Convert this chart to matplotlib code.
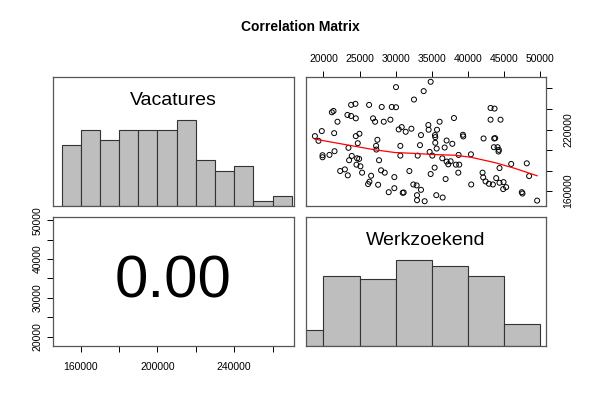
import numpy as np
import matplotlib
matplotlib.use('Agg')
import matplotlib.pyplot as plt

plt.rcParams['font.family'] = ['Liberation Sans', 'DejaVu Sans']

title = 'Correlation Matrix'
var_names = ['Vacatures', 'Werkzoekend']
corr_text = '0.00'

# scatter points
werkzoekend = [18810, 19310, 19770, 19870, 19870, 20830, 21160, 21390, 21530, 21480,
               21940, 22310, 22960, 23370, 23320, 23460, 23550, 23830, 23830, 23920,
               24430, 24480, 24570, 24480, 24660, 24750, 24940, 24980, 25120, 25350,
               26320, 26180, 26370, 26600, 26870, 27150, 27290, 27330, 27470, 27700,
               27980, 27570, 28070, 28350, 28490, 29040, 29270, 29460, 29820, 29820,
               30050, 30050, 30420, 30650, 30650, 30840, 30980, 31110, 31390, 31900,
               32180, 32450, 32540, 32910, 32960, 32960, 33050, 33370, 33510, 33510,
               33880, 34020, 34530, 34570, 34710, 34850, 34850, 35080, 35400, 35450,
               35490, 35630, 35730, 35490, 35680, 36090, 36460, 36510, 36790, 36920,
               37060, 37060, 37290, 37620, 37850, 38080, 38350, 38680, 38720, 38810,
               39320, 39370, 40430, 40470, 42040, 42130, 42180, 42460, 42920, 43150,
               43150, 43470, 43650, 43700, 43790, 43930, 43610, 44120, 44250, 44300,
               44390, 44390, 44530, 44950, 44900, 45310, 46010, 47480, 47570, 48170,
               48490, 49600]
vacatures = [213600, 209000, 218500, 195000, 193000, 195300, 236800, 238100, 198900, 216500,
             227600, 179600, 181200, 175400, 234200, 202200, 190100, 244000, 233200, 194300,
             245000, 230900, 185800, 213600, 192000, 206700, 191400, 215900, 184200, 178000,
             244000, 166900, 169200, 175000, 230900, 227600, 204100, 200500, 210000, 190100,
             180300, 166200, 242000, 227600, 178000, 159000, 229600, 242000, 173700, 162900,
             241700, 261300, 220100, 204100, 194600, 222400, 158400, 158700, 217800, 179600,
             220800, 166500, 249200, 165600, 151200, 156100, 194600, 204800, 214600, 161300,
             257400, 150200, 224400, 219800, 198200, 176700, 266500, 194600, 182900, 214600,
             212600, 156100, 219800, 207100, 201500, 227600, 192000, 153800, 202500, 171800,
             209300, 188800, 186100, 189100, 206100, 231200, 185800, 178000, 195300, 185800,
             214900, 213300, 195900, 166500, 178000, 173400, 211300, 169500, 167200, 241000,
             229600, 166500, 211300, 240400, 211600, 172700, 202800, 202800, 198600, 200200,
             182500, 168200, 229600, 168800, 162000, 163900, 186500, 159000, 157700, 187100,
             174700, 150800]

# smoother (red line)
smooth_x = [18810, 23460, 27150, 29920, 32220, 35450, 38210, 40430, 43750, 46510, 49600]
smooth_y = [210650, 204800, 200200, 197600, 196900, 195600, 195000, 193000, 187800, 182200, 175000]

# histograms
vac_edges = [150000, 160000, 170000, 180000, 190000, 200000, 210000,
             220000, 230000, 240000, 250000, 260000, 270000]
vac_counts = [12, 15, 13, 15, 15, 15, 17, 9, 7, 8, 1, 2]
werk_edges = [15000, 20000, 25000, 30000, 35000, 40000, 45000, 50000]
werk_counts = [5, 22, 21, 27, 25, 22, 7]

vac_ticks = [160000, 180000, 200000, 220000, 240000, 260000]
werk_ticks = [20000, 25000, 30000, 35000, 40000, 45000, 50000]


def padded(v):
    lo, hi = min(v), max(v)
    d = (hi - lo) * 0.04
    return lo - d, hi + d


vac_lim = padded(vacatures)
werk_lim = padded(werkzoekend)

fig = plt.figure(figsize=(6, 4), dpi=100)
fig.text(0.5, 0.932, title, ha='center', va='center', fontsize=10, fontweight='bold')

box = '#555555'
ax11 = fig.add_axes([0.0883, 0.485, 0.4017, 0.3225])
ax12 = fig.add_axes([0.51, 0.485, 0.40, 0.3225])
ax21 = fig.add_axes([0.0883, 0.135, 0.4017, 0.3225])
ax22 = fig.add_axes([0.51, 0.135, 0.40, 0.3225])

for ax in [ax11, ax12, ax21, ax22]:
    for s in ax.spines.values():
        s.set_color(box)
        s.set_linewidth(0.9)
    ax.set_xticks([])
    ax.set_yticks([])
    ax.tick_params(length=4.3, width=0.7, labelsize=7.5, colors='black')


def hist_panel(ax, edges, counts, lim, name):
    edges = np.array(edges, dtype=float)
    h = np.array(counts, dtype=float)
    h = h / h.max()
    ax.bar(edges[:-1], h, width=np.diff(edges), align='edge',
           color='#bebebe', edgecolor='#333333', linewidth=0.8)
    ax.set_xlim(lim)
    ax.set_ylim(0, 1.5)
    ax.text(0.5, 0.815, name, transform=ax.transAxes, ha='center', va='center', fontsize=14)


hist_panel(ax11, vac_edges, vac_counts, vac_lim, var_names[0])
hist_panel(ax22, werk_edges, werk_counts, werk_lim, var_names[1])

# scatter panel
ax12.scatter(werkzoekend, vacatures, s=13, facecolors='none', edgecolors='black', linewidths=0.7)
ax12.plot(smooth_x, smooth_y, color='red', lw=0.9)
ax12.set_xlim(werk_lim)
ax12.set_ylim(vac_lim)
ax12.xaxis.tick_top()
ax12.set_xticks(werk_ticks)
ax12.set_xticklabels([str(t) for t in werk_ticks])
ax12.yaxis.tick_right()
ax12.set_yticks(vac_ticks)
ax12.set_yticklabels(['160000', '', '', '220000', '', ''], rotation=90, va='center')
ax12.tick_params(axis='x', pad=5)
ax12.tick_params(axis='y', pad=8)

# correlation panel
ax21.set_xlim(vac_lim)
ax21.set_ylim(werk_lim)
ax21.text(0.5, 0.5, corr_text, transform=ax21.transAxes, ha='center', va='center', fontsize=43)
ax21.set_xticks(vac_ticks)
ax21.set_xticklabels(['160000', '', '200000', '', '240000', ''])
ax21.set_yticks(werk_ticks)
ax21.set_yticklabels(['20000', '', '30000', '', '40000', '', '50000'], rotation=90, va='center')
ax21.tick_params(axis='x', pad=7)
ax21.tick_params(axis='y', pad=3)

fig.savefig('out.png', dpi=100)
